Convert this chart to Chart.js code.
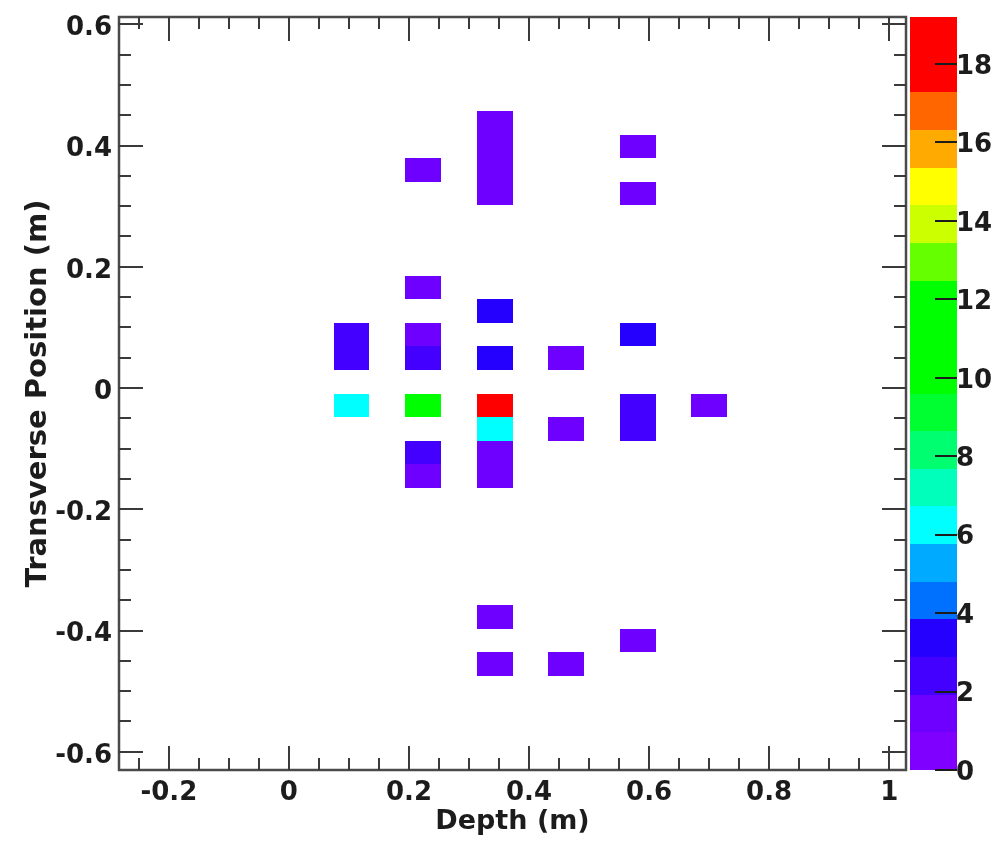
<!DOCTYPE html>
<html>
<head>
<meta charset="utf-8">
<script src="https://cdn.jsdelivr.net/npm/chart.js@4.4.1/dist/chart.umd.min.js"></script>
<style>
  html, body { margin: 0; padding: 0; background: #fff; }
</style>
</head>
<body>
<canvas id="hist" width="995" height="862"></canvas>
<script>
// histogram binning (m)
const depthRange = [-0.283, 1.028];
const depthBins = 22;
const transRange = [-0.630, 0.612];
const transBins = 32;

// filled bins: centre depth, centre transverse position, entries
const cellDepth = [0.343, 0.343, 0.343, 0.343, 0.224, 0.581, 0.581,
  0.224, 0.343, 0.104, 0.104, 0.224, 0.224, 0.343, 0.462, 0.581,
  0.104, 0.224, 0.343, 0.343, 0.462, 0.581, 0.581, 0.700,
  0.224, 0.224, 0.343, 0.343, 0.343, 0.343, 0.462, 0.581];
const cellTrans = [0.437, 0.399, 0.360, 0.321, 0.360, 0.399, 0.321,
  0.166, 0.127, 0.088, 0.049, 0.088, 0.049, 0.049, 0.049, 0.088,
  -0.028, -0.028, -0.028, -0.067, -0.067, -0.028, -0.067, -0.028,
  -0.106, -0.145, -0.106, -0.145, -0.378, -0.455, -0.455, -0.417];
const cellCount = [1, 1, 1, 1, 1, 1, 1,
  1, 3, 2, 2, 1, 2, 3, 1, 3,
  6, 11, 19, 6, 1, 2, 2, 1,
  2, 1, 1, 1, 1, 1, 1, 1];

// colour palette (ROOT style, 20 contours)
const zMax = 19.2;
const levelColors = ['#8000ff', '#6e00ff', '#4400ff', '#2600ff', '#0070ff',
  '#00aaff', '#00ffff', '#00ffbb', '#00ff70', '#00ff30',
  '#00ff00', '#00ff00', '#00ff00', '#66ff00', '#ccff00',
  '#ffff00', '#ffaa00', '#ff6600', '#ff0000', '#ff0000'];

const axisStep = 0.2;
const minorStep = 0.05;
const zStep = 2;

const depthBinW = (depthRange[1] - depthRange[0]) / depthBins;
const transBinH = (transRange[1] - transRange[0]) / transBins;

// snap a value to the lower edge of its bin
const binLow = (v, lo, w) => lo + Math.floor((v - lo) / w) * w;

function colorFor(v) {
  const k = Math.min(levelColors.length - 1, Math.floor(v / zMax * levelColors.length));
  return levelColors[k];
}

const ink = '#1c1c1c';
const tickFont = { family: 'DejaVu Sans', weight: 'bold', size: 26 };

function noPad(scale) {
  scale.paddingTop = 0; scale.paddingBottom = 0;
  scale.paddingLeft = 0; scale.paddingRight = 0;
}

const cellsPlugin = {
  id: 'cells',
  beforeDatasetsDraw(chart) {
    const { ctx, chartArea: ca, scales: { x, y } } = chart;
    ctx.save();
    ctx.beginPath();
    ctx.rect(ca.left, ca.top, ca.right - ca.left, ca.bottom - ca.top);
    ctx.clip();
    cellCount.forEach((v, i) => {
      const dx = binLow(cellDepth[i], depthRange[0], depthBinW);
      const ty = binLow(cellTrans[i], transRange[0], transBinH);
      const x0 = Math.round(x.getPixelForValue(dx));
      const x1 = Math.round(x.getPixelForValue(dx + depthBinW));
      const y0 = Math.round(y.getPixelForValue(ty + transBinH));
      const y1 = Math.round(y.getPixelForValue(ty));
      ctx.fillStyle = colorFor(v);
      ctx.fillRect(x0, y0, x1 - x0, y1 - y0);
    });
    ctx.restore();
  }
};

const framePlugin = {
  id: 'frame',
  afterDraw(chart) {
    const { ctx, chartArea: ca, scales: { x, y, z } } = chart;
    ctx.save();
    // palette
    const pL = Math.round(ca.right + 4), pR = Math.round(ca.right + 51);
    const n = levelColors.length;
    levelColors.forEach((c, k) => {
      const yTop = Math.round(z.getPixelForValue((k + 1) * zMax / n));
      const yBot = Math.round(z.getPixelForValue(k * zMax / n));
      ctx.fillStyle = c;
      ctx.fillRect(pL, yTop, pR - pL, yBot - yTop);
    });
    ctx.strokeStyle = ink;
    ctx.lineWidth = 2;
    z.ticks.forEach(t => {
      const py = Math.round(z.getPixelForValue(t.value));
      ctx.beginPath();
      ctx.moveTo(pR - 22, py);
      ctx.lineTo(pR, py);
      ctx.stroke();
    });

    // frame
    ctx.strokeStyle = '#4a4a4a';
    ctx.lineWidth = 2.5;
    ctx.strokeRect(ca.left, ca.top, ca.right - ca.left, ca.bottom - ca.top);

    // inward tick marks on all four sides
    ctx.strokeStyle = '#3a3a3a';
    ctx.lineWidth = 2;
    const isMajor = v => Math.abs(v / axisStep - Math.round(v / axisStep)) < 1e-6;
    for (let i = Math.ceil(x.min / minorStep); i * minorStep <= x.max; i++) {
      const v = i * minorStep;
      const px = Math.round(x.getPixelForValue(v));
      const len = isMajor(v) ? 24 : 12;
      ctx.beginPath();
      ctx.moveTo(px, ca.bottom); ctx.lineTo(px, ca.bottom - len);
      ctx.moveTo(px, ca.top); ctx.lineTo(px, ca.top + len);
      ctx.stroke();
    }
    for (let i = Math.ceil(y.min / minorStep); i * minorStep <= y.max; i++) {
      const v = i * minorStep;
      const py = Math.round(y.getPixelForValue(v));
      const len = isMajor(v) ? 24 : 12;
      ctx.beginPath();
      ctx.moveTo(ca.left, py); ctx.lineTo(ca.left + len, py);
      ctx.moveTo(ca.right, py); ctx.lineTo(ca.right - len, py);
      ctx.stroke();
    }
    ctx.restore();
  }
};

const fmt = v => (Math.abs(v) < 1e-9 ? '0' : String(+v.toFixed(1)));

new Chart(document.getElementById('hist'), {
  type: 'scatter',
  data: {
    datasets: [{
      label: 'entries',
      data: cellCount.map((v, i) => ({ x: cellDepth[i], y: cellTrans[i], v })),
      pointRadius: 0,
      pointHoverRadius: 0
    }]
  },
  options: {
    responsive: false,
    animation: false,
    devicePixelRatio: 1,
    layout: { padding: { top: 17, right: 0, bottom: 0, left: 0 } },
    plugins: { legend: { display: false }, tooltip: { enabled: false } },
    scales: {
      x: {
        type: 'linear',
        min: depthRange[0],
        max: depthRange[1],
        grid: { display: false, drawTicks: false },
        border: { display: false },
        ticks: {
          stepSize: axisStep, includeBounds: false, padding: 8,
          maxRotation: 0, autoSkip: false,
          color: ink, font: tickFont, callback: fmt
        },
        title: {
          display: true, text: 'Depth (m)', color: ink,
          font: { family: 'DejaVu Sans', weight: 'bold', size: 27 },
          padding: { top: 0, bottom: 24 }
        },
        afterFit(s) { s.height = 92; noPad(s); }
      },
      y: {
        type: 'linear',
        min: transRange[0],
        max: transRange[1],
        grid: { display: false, drawTicks: false },
        border: { display: false },
        ticks: {
          stepSize: axisStep, includeBounds: false, padding: 7, labelOffset: 4,
          autoSkip: false, color: ink, font: tickFont, callback: fmt
        },
        title: {
          display: true, text: 'Transverse Position (m)', color: ink,
          font: { family: 'DejaVu Sans', weight: 'bold', size: 29 },
          padding: { top: 21, bottom: 0 }
        },
        afterFit(s) { s.width = 119; noPad(s); }
      },
      z: {
        type: 'linear',
        axis: 'y',
        position: 'right',
        min: 0,
        max: zMax,
        grid: { display: false, drawTicks: false },
        border: { display: false },
        ticks: {
          stepSize: zStep, includeBounds: false, padding: 50, labelOffset: 3,
          autoSkip: false, color: ink, font: tickFont
        },
        afterFit(s) { s.width = 89; noPad(s); }
      }
    }
  },
  plugins: [cellsPlugin, framePlugin]
});
</script>
</body>
</html>
